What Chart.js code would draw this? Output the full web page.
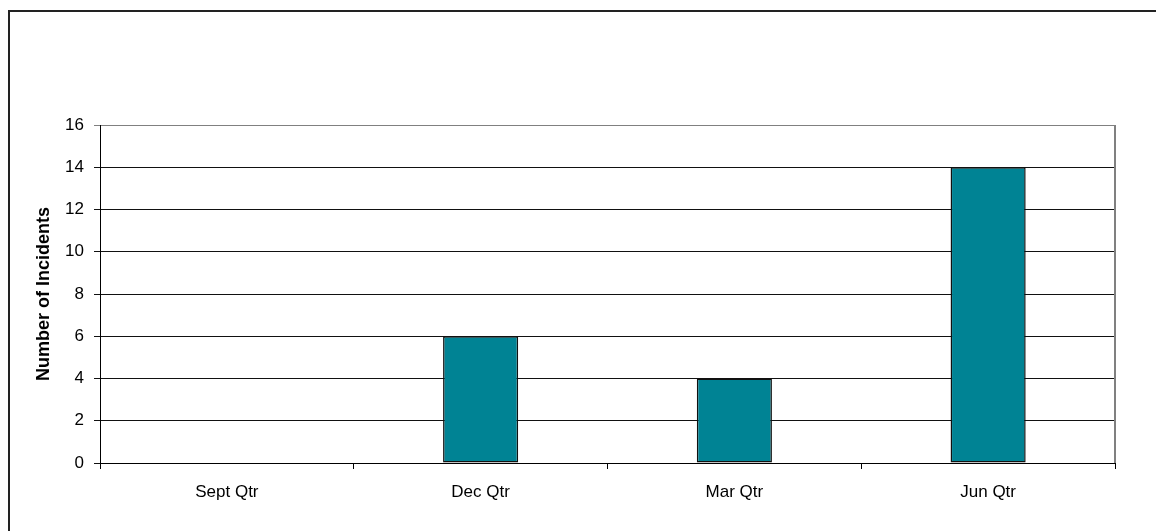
<!DOCTYPE html>
<html>
<head>
<meta charset="utf-8">
<script src="https://cdn.jsdelivr.net/npm/chart.js@4.4.1/dist/chart.umd.min.js"></script>
<style>
  html, body { margin: 0; padding: 0; background: #fff; }
  #wrap { position: relative; width: 1156px; height: 531px; overflow: hidden; }
  /* outer frame, only top and left edges fall inside the page */
  #frame { position: absolute; left: 8px; top: 10px; width: 1300px; height: 700px;
           border-left: 2px solid #222; border-top: 2px solid #222; }
  #chart { position: absolute; left: 0; top: 0; }
</style>
</head>
<body>
<div id="wrap">
  <div id="frame"></div>
  <canvas id="chart" width="1156" height="531"></canvas>
</div>
<script>
// quarters and incident counts
const quarters = ['Sept Qtr', 'Dec Qtr', 'Mar Qtr', 'Jun Qtr'];
const incidents = [0, 6, 4, 14];

// value axis range
const yMin = 0;
const yMax = 16;
const yStep = 2;

const FONT = 'Arial, "Liberation Sans", sans-serif';

// grey edge on the right of the plot area
const plotBorder = {
    id: 'plotBorder',
    afterDraw(chart) {
        const { ctx, chartArea } = chart;
        ctx.save();
        ctx.strokeStyle = '#808080';
        ctx.lineWidth = 2;
        ctx.beginPath();
        ctx.moveTo(chartArea.right, chartArea.top);
        ctx.lineTo(chartArea.right, chartArea.bottom);
        ctx.stroke();
        ctx.restore();
    }
};

new Chart(document.getElementById('chart').getContext('2d'), {
    type: 'bar',
    data: {
        labels: quarters,
        datasets: [{
            label: 'Number of Incidents',
            data: incidents,
            backgroundColor: '#008394',
            borderColor: '#111',
            borderWidth: 1.5,
            borderSkipped: false,
            categoryPercentage: 1,
            barPercentage: 0.296
        }]
    },
    options: {
        responsive: false,
        animation: false,
        layout: { padding: { left: 0, top: 125, right: 41, bottom: 0 } },
        plugins: {
            legend: { display: false },
            tooltip: { enabled: false }
        },
        scales: {
            x: {
                grid: {
                    display: true,
                    offset: true,
                    drawOnChartArea: false,
                    drawTicks: true,
                    tickLength: 6,
                    color: '#000'
                },
                border: { color: '#000', width: 1 },
                ticks: {
                    color: '#000',
                    font: { family: FONT, size: 17 },
                    padding: 13,
                    maxRotation: 0
                },
                afterFit(scale) { scale.height = 68; }
            },
            y: {
                min: yMin,
                max: yMax,
                ticks: {
                    stepSize: yStep,
                    color: '#000',
                    font: { family: FONT, size: 17 },
                    padding: 10
                },
                grid: {
                    tickLength: 6,
                    color: (ctx) => (ctx.tick && ctx.tick.value === yMax ? '#808080' : '#111')
                },
                border: { color: '#000', width: 1 },
                title: {
                    display: true,
                    text: 'Number of Incidents',
                    color: '#000',
                    font: { family: FONT, size: 18, weight: 'bold' },
                    padding: { top: 33, bottom: 0 }
                },
                afterFit(scale) { scale.width = 100; }
            }
        }
    },
    plugins: [plotBorder]
});
</script>
</body>
</html>
